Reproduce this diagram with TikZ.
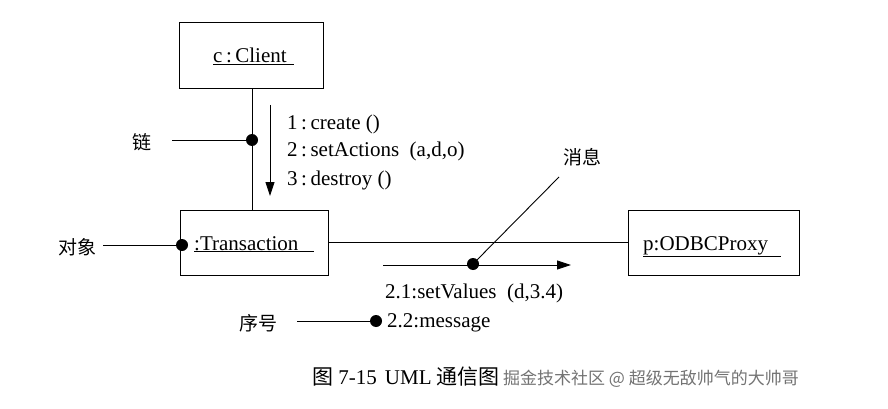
\documentclass[tikz,border=0pt]{standalone}
\usepackage{fontspec}
\setmainfont{Liberation Serif}
\newfontfamily\cjk{Noto Sans CJK SC}
\usetikzlibrary{arrows.meta}
\begin{document}
\begin{tikzpicture}[x=1pt,y=-1pt,
  obj/.style={draw,line width=0.9pt,rectangle,inner sep=0pt},
  txt/.style={inner sep=0pt,font=\fontsize{21}{25}\selectfont},
  lbl/.style={inner sep=0pt,font=\fontsize{19}{23}\selectfont\cjk},
  ln/.style={line width=0.9pt},
  dotc/.style={circle,fill=black,inner sep=0pt,minimum size=12pt},
  arr/.style={line width=0.9pt,-{Triangle[length=14pt,width=9pt]}}]
\useasboundingbox (0,0) rectangle (888,409);
% objects
\node[obj,minimum width=144pt,minimum height=66pt] (client) at (251,55) {};
\node[obj,minimum width=148pt,minimum height=65pt] (trans) at (254,242.5) {};
\node[obj,minimum width=171pt,minimum height=65pt] (odbc) at (713.5,242.5) {};
\node[txt,anchor=base west] (clientT) at (213,63) {\underline{c\,:\,Client\hspace{7pt}}};
\node[txt,anchor=base west] (transT) at (194,250) {\underline{:Transaction\hspace{16pt}}};
\node[txt,anchor=base west] (odbcT) at (643,250) {\underline{p:ODBCProxy\hspace{13pt}}};
% links
\draw[ln] (client.south -| 252,0) -- (trans.north -| 252,0);
\draw[ln] (trans.east |- 0,242) -- (odbc.west |- 0,242);
% link annotation
\node[dotc] (linkdot) at (252,140) {};
\node[lbl] (lian) at (142,142) {链};
\coordinate (lianS) at (172,140);
\draw[ln] (lianS) -- (linkdot.center);
% message arrow 1
\coordinate (m1s) at (270,105);
\coordinate (m1e) at (270,196);
\draw[arr] (m1s) -- (m1e);
\node[txt,anchor=base west] (msg1) at (287,129) {1\,:\,create ()};
\node[txt,anchor=base west] (msg2) at (287,157) {2\,:\,setActions\ \ (a,d,o)};
\node[txt,anchor=base west] (msg3) at (287,185) {3\,:\,destroy ()};
% object annotation
\node[dotc] (objdot) at (182,245) {};
\node[lbl] (duixiang) at (77,247) {对象};
\draw[ln] (103,245) -- (objdot.center);
% message arrow 2
\coordinate (m2s) at (383,265);
\coordinate (m2e) at (571,265);
\draw[arr] (m2s) -- (m2e);
\node[dotc] (msgdot) at (473,264) {};
\node[lbl] (xiaoxi) at (582,157) {消息};
\coordinate (xiaoxiE) at (559,177);
\draw[ln] (msgdot.center) -- (xiaoxiE);
\node[txt,anchor=base west] (msg21) at (385,298) {2.1:setValues\ \ (d,3.4)};
% sequence annotation
\node[dotc] (seqdot) at (376,321) {};
\node[lbl] (xuhao) at (258,323) {序号};
\draw[ln] (297,321) -- (seqdot.center);
\node[txt,anchor=base west] (msg22) at (387,327) {2.2:message};
% caption
\node[txt,anchor=base west] (cap) at (312,384) {{\cjk 图} 7-15\hspace{8pt}UML {\cjk 通信图}};
\node[inner sep=0pt,anchor=west,text=black!55,font=\fontsize{17}{20}\selectfont\cjk] (wm) at (503,379) {掘金技术社区 @ 超级无敌帅气的大帅哥};
\end{tikzpicture}
\end{document}
